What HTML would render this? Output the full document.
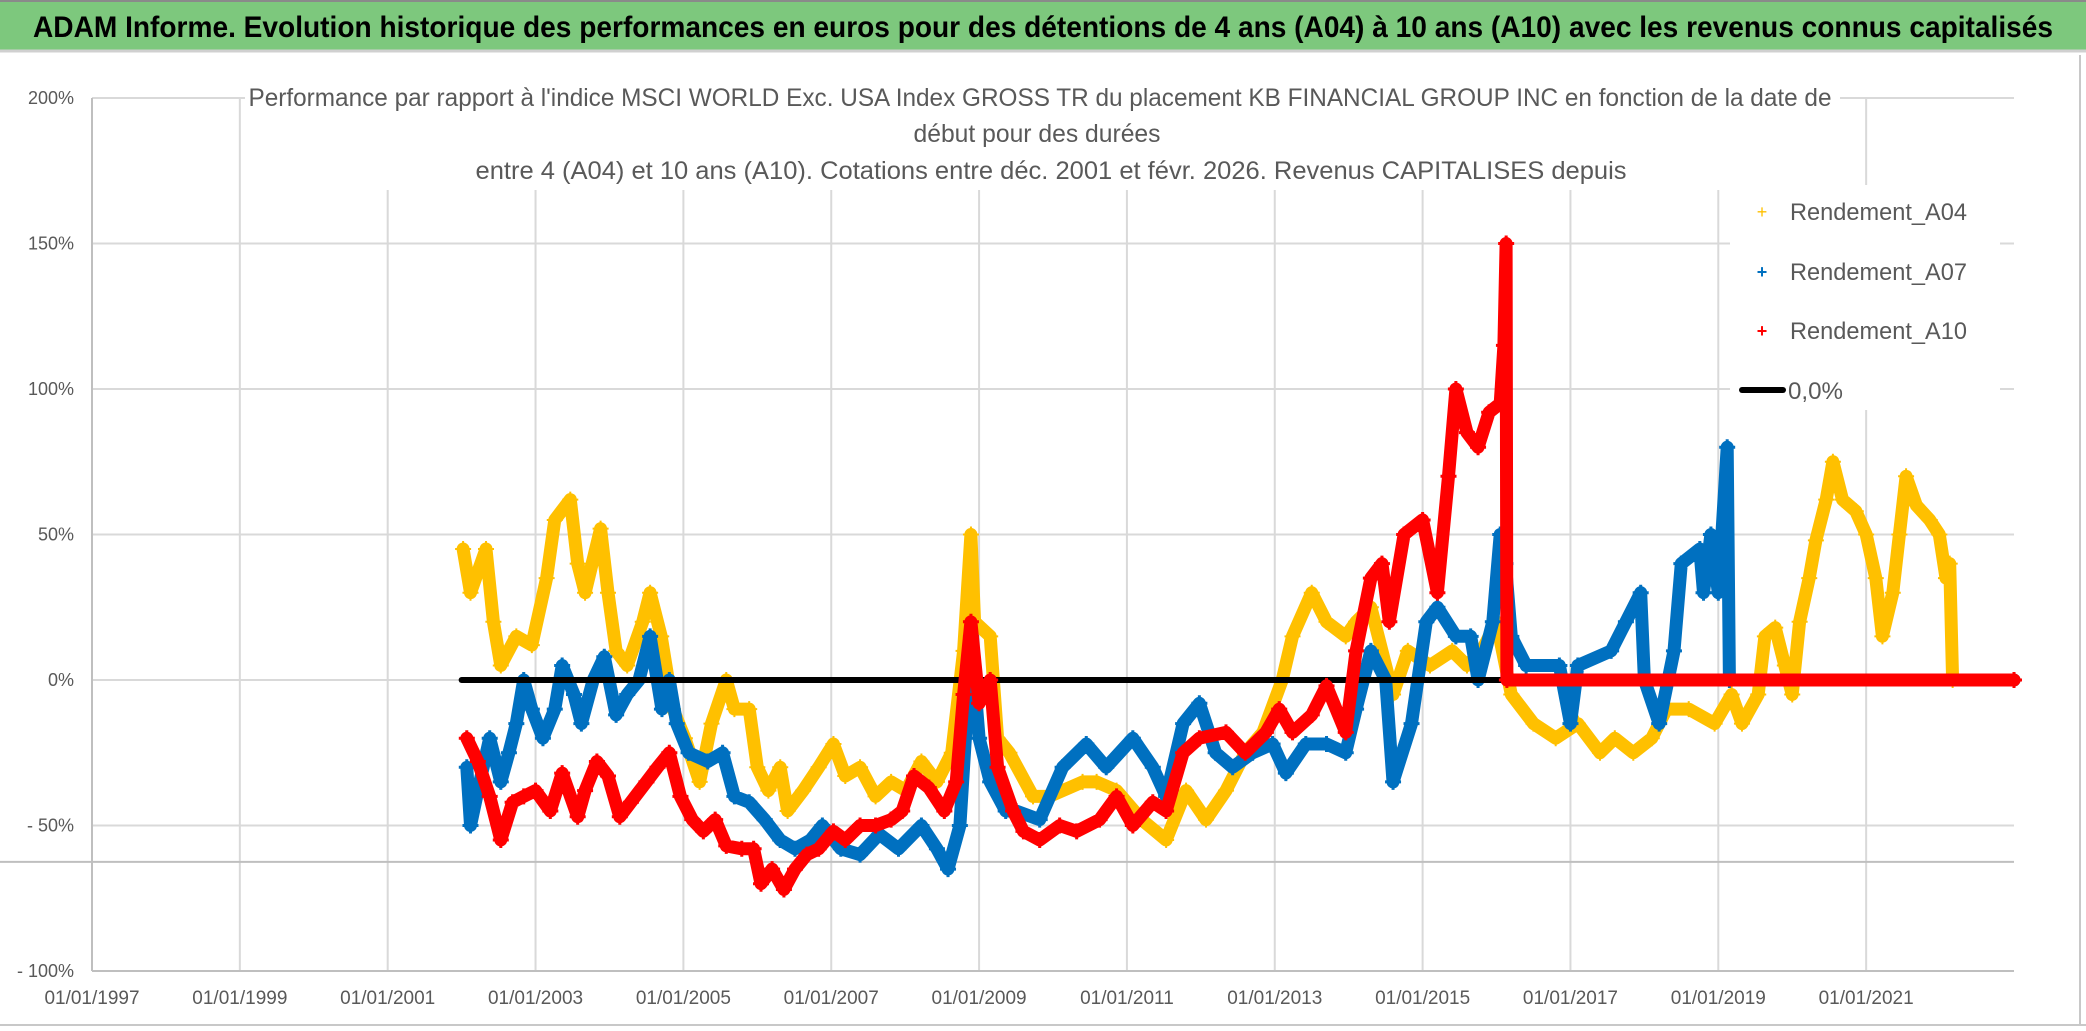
<!DOCTYPE html>
<html><head><meta charset="utf-8">
<style>
html,body{margin:0;padding:0;background:#fff;}
svg{display:block;font-family:"Liberation Sans",sans-serif;}
</style></head>
<body>
<svg id="chart" width="2086" height="1031" viewBox="0 0 2086 1031">
  <rect x="0" y="0" width="2086" height="1031" fill="#ffffff"/>
  <rect x="0" y="0" width="2086" height="50" fill="#7dc87d"/>
  <line x1="0" y1="1" x2="2086" y2="1" stroke="#8a8a8a" stroke-width="2"/>
  <line x1="0" y1="51" x2="2086" y2="51" stroke="#d0d0d0" stroke-width="3"/>
  <text x="1043" y="37" text-anchor="middle" font-size="30" font-weight="bold" fill="#000" textLength="2020" lengthAdjust="spacingAndGlyphs">ADAM Informe. Evolution historique des performances en euros pour des détentions de 4 ans (A04) à 10 ans (A10) avec les revenus connus capitalisés</text>
  <line x1="2080" y1="55" x2="2080" y2="1025" stroke="#c8c8c8" stroke-width="2"/>
  <line x1="0" y1="1025" x2="2086" y2="1025" stroke="#c8c8c8" stroke-width="2"/>
  <g id="grid"></g>
  <g id="axes"></g>
  <g id="series"></g>
  <rect x="245" y="72" width="1595" height="118" fill="#fff"/>
  <g fill="#595959" font-size="25" text-anchor="middle">
    <text x="1040" y="106" textLength="1583" lengthAdjust="spacingAndGlyphs">Performance par rapport à l'indice MSCI WORLD Exc. USA Index GROSS TR  du placement KB FINANCIAL GROUP INC en fonction de la date de</text>
    <text x="1037" y="142" textLength="247" lengthAdjust="spacingAndGlyphs">début pour des durées</text>
    <text x="1051" y="179" textLength="1151" lengthAdjust="spacingAndGlyphs">entre 4 (A04) et 10 ans (A10). Cotations entre déc. 2001 et févr. 2026. Revenus CAPITALISES depuis</text>
  </g>
  <g id="legend">
    <rect x="1730" y="185" width="270" height="225" fill="#fff"/>
    <g>
      <text x="1762" y="218" font-size="18" fill="#ffc000" text-anchor="middle">+</text>
      <text x="1790" y="220" font-size="24" fill="#595959" textLength="177" lengthAdjust="spacingAndGlyphs">Rendement_A04</text>
    </g>
    <g>
      <text x="1762" y="278" font-size="18" font-weight="bold" fill="#0070c0" text-anchor="middle">+</text>
      <text x="1790" y="280" font-size="24" fill="#595959" textLength="177" lengthAdjust="spacingAndGlyphs">Rendement_A07</text>
    </g>
    <g>
      <text x="1762" y="337" font-size="18" font-weight="bold" fill="#ff0000" text-anchor="middle">+</text>
      <text x="1790" y="339" font-size="24" fill="#595959" textLength="177" lengthAdjust="spacingAndGlyphs">Rendement_A10</text>
    </g>
    <g>
      <line x1="1742" y1="390" x2="1783" y2="390" stroke="#000" stroke-width="6" stroke-linecap="round"/>
      <text x="1788" y="399" font-size="24" fill="#595959" textLength="55" lengthAdjust="spacingAndGlyphs">0,0%</text>
    </g>
  </g>
</svg>
<script>
const yTicks = [200, 150, 100, 50, 0, -50, -100];
const yTickLabels = ["200%", "150%", "100%", "50%", "0%", "- 50%", "- 100%"];
const xTicks = [1997, 1999, 2001, 2003, 2005, 2007, 2009, 2011, 2013, 2015, 2017, 2019, 2021];
const xTickLabels = ["01/01/1997","01/01/1999","01/01/2001","01/01/2003","01/01/2005","01/01/2007","01/01/2009","01/01/2011","01/01/2013","01/01/2015","01/01/2017","01/01/2019","01/01/2021"];
const refLineValue = -62.5;
const zeroLineRange = [2002.0, 2016.14];

const a04Years = [2002.02,2002.12,2002.33,2002.43,2002.53,2002.74,2002.95,2003.15,2003.26,2003.47,2003.57,2003.67,2003.88,2003.98,2004.09,2004.24,2004.45,2004.55,2004.7,2004.86,2005.02,2005.22,2005.38,2005.58,2005.69,2005.89,2006.0,2006.15,2006.31,2006.41,2006.62,2006.83,2007.03,2007.19,2007.39,2007.6,2007.81,2008.01,2008.22,2008.43,2008.63,2008.79,2008.89,2008.94,2009.15,2009.25,2009.41,2009.73,2009.95,2010.4,2010.59,2010.86,2011.2,2011.53,2011.8,2012.07,2012.34,2012.6,2012.84,2013.1,2013.24,2013.5,2013.7,2013.96,2014.1,2014.3,2014.6,2014.8,2015.1,2015.4,2015.6,2015.8,2016.0,2016.2,2016.5,2016.8,2017.1,2017.4,2017.6,2017.85,2018.1,2018.3,2018.6,2018.95,2019.18,2019.32,2019.54,2019.63,2019.77,2019.9,2020.0,2020.1,2020.23,2020.32,2020.46,2020.55,2020.68,2020.86,2021.0,2021.13,2021.22,2021.36,2021.45,2021.54,2021.68,2021.86,2021.99,2022.08,2022.13,2022.17,2023.0];
const a04Values = [45,30,45,20,5,15,12,35,55,62,40,30,52,30,10,5,20,30,15,-10,-20,-35,-15,0,-10,-10,-30,-38,-30,-45,-38,-30,-22,-33,-30,-40,-35,-38,-28,-35,-25,10,50,20,15,-20,-25,-40,-40,-35,-35,-38,-48,-55,-38,-48,-38,-25,-18,0,15,30,20,15,20,25,-5,10,5,10,5,10,20,-5,-15,-20,-15,-25,-20,-25,-20,-10,-10,-15,-5,-15,-5,15,18,5,-5,20,35,48,62,75,62,58,50,35,15,30,50,70,60,55,50,35,40,0,0];

const a07Years = [2002.07,2002.12,2002.22,2002.38,2002.53,2002.64,2002.74,2002.84,2002.95,2003.1,2003.26,2003.36,2003.52,2003.62,2003.78,2003.93,2004.09,2004.24,2004.4,2004.55,2004.71,2004.81,2004.91,2005.07,2005.33,2005.53,2005.69,2005.89,2006.1,2006.31,2006.51,2006.72,2006.88,2007.13,2007.39,2007.65,2007.91,2008.22,2008.43,2008.58,2008.74,2008.84,2008.89,2009.0,2009.15,2009.36,2009.5,2009.82,2010.13,2010.45,2010.72,2011.08,2011.35,2011.53,2011.76,2011.98,2012.2,2012.43,2012.7,2012.97,2013.15,2013.42,2013.7,2013.96,2014.1,2014.3,2014.5,2014.6,2014.85,2015.05,2015.2,2015.45,2015.65,2015.75,2015.95,2016.05,2016.12,2016.2,2016.4,2016.85,2017.0,2017.1,2017.55,2017.75,2017.95,2018.0,2018.2,2018.4,2018.5,2018.75,2018.8,2018.9,2019.0,2019.12,2019.15,2023.0];
const a07Values = [-30,-50,-38,-20,-35,-25,-15,0,-10,-20,-10,5,-5,-15,0,8,-12,-5,0,15,-10,0,-15,-25,-28,-25,-40,-42,-48,-55,-58,-55,-50,-58,-60,-53,-58,-50,-58,-65,-50,-10,15,-20,-35,-45,-45,-48,-30,-22,-30,-20,-30,-40,-15,-8,-25,-30,-25,-22,-32,-22,-22,-25,-10,10,0,-35,-15,20,25,15,15,0,20,50,40,15,5,5,-15,5,10,20,30,0,-15,10,40,45,30,50,30,80,0,0];

const a10Years = [2002.07,2002.22,2002.38,2002.53,2002.69,2002.84,2003.0,2003.2,2003.36,2003.57,2003.67,2003.83,2003.98,2004.14,2004.29,2004.5,2004.65,2004.81,2004.96,2005.12,2005.27,2005.43,2005.58,2005.79,2005.95,2006.05,2006.2,2006.36,2006.51,2006.67,2006.83,2007.03,2007.19,2007.39,2007.6,2007.81,2007.96,2008.12,2008.32,2008.53,2008.69,2008.79,2008.89,2009.0,2009.15,2009.25,2009.46,2009.6,2009.82,2010.09,2010.32,2010.63,2010.86,2011.08,2011.35,2011.53,2011.76,2011.98,2012.34,2012.6,2012.88,2013.06,2013.24,2013.5,2013.7,2013.96,2014.1,2014.3,2014.45,2014.55,2014.75,2015.0,2015.2,2015.35,2015.45,2015.6,2015.75,2015.9,2016.05,2016.1,2016.13,2016.14,2023.0];
const a10Values = [-20,-28,-40,-55,-42,-40,-38,-45,-32,-47,-38,-28,-33,-47,-42,-35,-30,-25,-40,-48,-52,-48,-57,-58,-58,-70,-65,-72,-65,-60,-58,-52,-55,-50,-50,-48,-45,-33,-37,-45,-35,-5,20,-8,0,-30,-45,-52,-55,-50,-52,-48,-40,-50,-42,-45,-25,-20,-18,-25,-18,-10,-18,-12,-2,-18,10,35,40,20,50,55,30,70,100,85,80,92,95,115,150,0,0];

const NS = "http://www.w3.org/2000/svg";
const plotL = 92, plotR = 2014, plotT = 98, plotB = 971;
const xMin = 1997, xMax = 2023, yMin = -100, yMax = 200;
function xScale(yr){ return plotL + (yr - xMin) / (xMax - xMin) * (plotR - plotL); }
function yScale(v){ return plotB - (v - yMin) / (yMax - yMin) * (plotB - plotT); }
function mk(tag, attrs, parent){
  const el = document.createElementNS(NS, tag);
  for (const k in attrs) el.setAttribute(k, attrs[k]);
  parent.appendChild(el);
  return el;
}

const grid = document.getElementById('grid');
const axes = document.getElementById('axes');
const series = document.getElementById('series');

yTicks.forEach((v, i) => {
  const y = yScale(v);
  const gl = mk('line', {x1: plotL, y1: y, x2: plotR, y2: y, stroke: '#d9d9d9', 'stroke-width': 2}, grid);
  
  
  const t = mk('text', {x: 74, y: y + 6, 'text-anchor': 'end', 'font-size': 18, fill: '#595959'}, axes);
  t.textContent = yTickLabels[i];
  
  
});
xTicks.forEach((yr, i) => {
  const x = xScale(yr);
  const gl = mk('line', {x1: x, y1: plotT, x2: x, y2: plotB, stroke: '#d9d9d9', 'stroke-width': 2}, grid);
  
  
  const t = mk('text', {x: x, y: 1004, 'text-anchor': 'middle', 'font-size': 19, fill: '#595959'}, axes);
  t.textContent = xTickLabels[i];
  
  
});
const la = mk('line', {x1: plotL, y1: plotT, x2: plotL, y2: plotB, stroke: '#bfbfbf', 'stroke-width': 2}, axes);


const ba = mk('line', {x1: plotL, y1: plotB, x2: plotR, y2: plotB, stroke: '#bfbfbf', 'stroke-width': 2}, axes);


const rl = mk('line', {x1: 0, y1: yScale(refLineValue), x2: plotR, y2: yScale(refLineValue), stroke: '#bfbfbf', 'stroke-width': 2}, axes);



function drawSeries(years, values, color, name, bold){
  const g = mk('g', {}, series);
  
  
  const pts = years.map((yr, i) => xScale(yr).toFixed(1) + ',' + yScale(values[i]).toFixed(1)).join(' ');
  const pl = mk('polyline', {points: pts, fill: 'none', stroke: color, 'stroke-width': 13, 'stroke-linejoin': 'round', 'stroke-linecap': 'round'}, g);
  
  
  years.forEach((yr, i) => {
    const x = xScale(yr), y = yScale(values[i]);
    const p = mk('path', {d: `M${x-8},${y}H${x+8}M${x},${y-8}V${y+8}`, stroke: color, 'stroke-width': bold ? 3 : 2}, g);
    
    
  });
}
drawSeries(a04Years, a04Values, '#ffc000', 'series-a04', false);
drawSeries(a07Years, a07Values, '#0070c0', 'series-a07', true);
const zl = mk('line', {x1: xScale(zeroLineRange[0]), y1: yScale(0), x2: xScale(zeroLineRange[1]), y2: yScale(0), stroke: '#000', 'stroke-width': 6, 'stroke-linecap': 'round'}, series);


drawSeries(a10Years, a10Values, '#ff0000', 'series-a10', true);
</script>
</body></html>
